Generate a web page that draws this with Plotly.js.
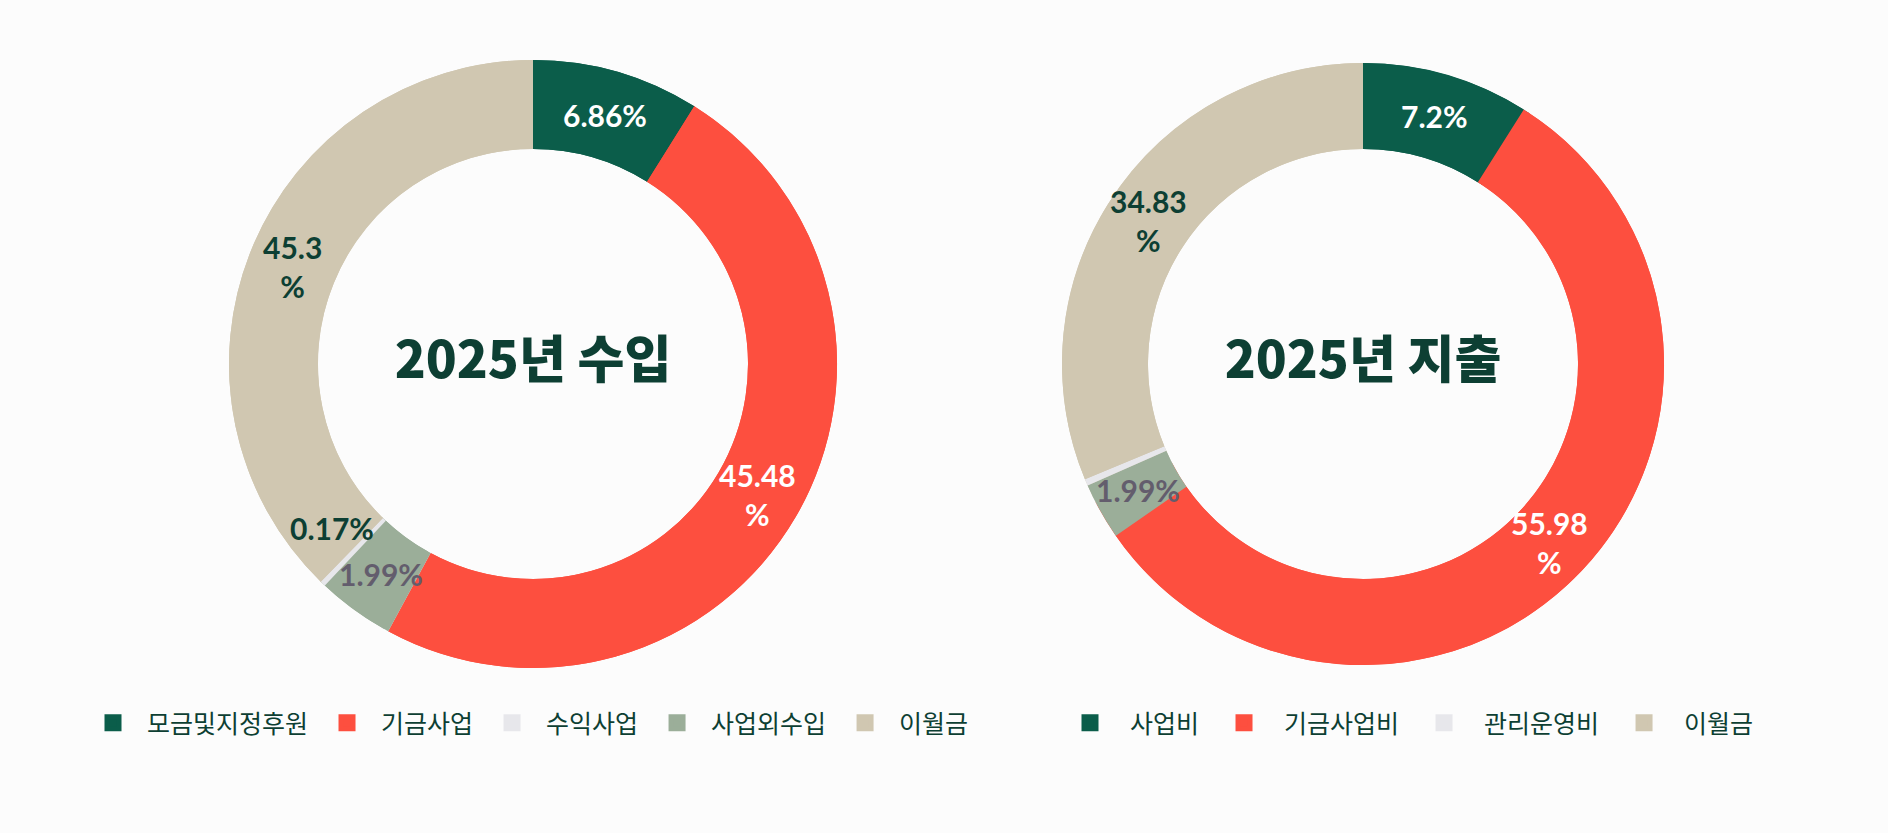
<!DOCTYPE html>
<html>
<head>
<meta charset="utf-8">
<script src="https://cdn.plot.ly/plotly-3.0.1.min.js"></script>
<style>
  html, body { margin: 0; padding: 0; background: #fcfcfc; }
  #chart { width: 1888px; height: 833px; }
</style>
</head>
<body>
<div id="chart"></div>
<script>
// ---------------- data ----------------
const incomeTitle = '2025년 수입';
const incomeLegendLabels = ['모금및지정후원', '기금사업', '수익사업', '사업외수입', '이월금'];
// slices in the order they run clockwise round the ring
const incomeRingLabels = ['모금및지정후원', '기금사업', '사업외수입', '수익사업', '이월금'];
const incomeRingShares = [8.9, 49.0, 4.1, 0.3, 37.7];           // arc sizes as drawn
const incomeRingPercents = [6.86, 45.48, 1.99, 0.17, 45.3];      // printed labels

const expenseTitle = '2025년 지출';
const expenseLegendLabels = ['사업비', '기금사업비', '관리운영비', '이월금'];
const expenseRingLabels = ['사업비', '기금사업비', '기타', '관리운영비', '이월금'];
const expenseRingShares = [8.97, 56.36, 3.06, 0.36, 31.25];
const expenseRingPercents = [7.2, 55.98, 1.99, null, 34.83];

// ---------------- styles ----------------
const GREEN = '#0b5d4a', RED = '#fd4f3f', GRAY = '#e7e7eb', SAGE = '#9bae99', BEIGE = '#d0c7b1';
const DARK = '#0d3f33', MUTED = '#635d6d', WHITE = '#ffffff';
const colorOf = {
  '모금및지정후원': GREEN, '기금사업': RED, '수익사업': GRAY, '사업외수입': SAGE, '이월금': BEIGE,
  '사업비': GREEN, '기금사업비': RED, '관리운영비': GRAY, '기타': SAGE
};
const textColorOf = c => (c === GREEN || c === RED) ? WHITE : (c === SAGE ? MUTED : DARK);

const W = 1888, H = 833;
const R_IN = 215, LEG_LINE = 5;
const LABEL_FONT = { family: 'Lato', size: 30, weight: 700 };

function dom(cx, cy, r) {
  return { x: [(cx - r) / W, (cx + r) / W], y: [(H - cy - r) / H, (H - cy + r) / H] };
}
function fmt(v) { return v >= 10 ? v + '<br>%' : v + '%'; }

function chart(legendLabels, ringLabels, shares, percents, title, cx, cy, rOut, legendId, group) {
  const rB = rOut - LEG_LINE / 2;
  const legendValues = legendLabels.map(l =>
    ringLabels.reduce((s, rl, i) => s + (rl === l ? shares[i] : 0), 0));
  const legendColors = legendLabels.map(l => colorOf[l]);
  const legendTrace = {
    type: 'pie', labels: legendLabels, values: legendValues, sort: false,
    direction: 'clockwise', rotation: 0,
    hole: (R_IN + LEG_LINE / 2) / rB,
    domain: dom(cx, cy, rB),
    marker: { colors: legendColors, line: { color: legendColors, width: LEG_LINE } },
    textinfo: 'none', hoverinfo: 'skip',
    showlegend: true, legend: legendId, legendgroup: group
  };
  const ringTrace = {
    type: 'pie', labels: ringLabels, values: shares,
    sort: false, direction: 'clockwise', rotation: 0,
    hole: R_IN / rOut,
    domain: dom(cx, cy, rOut),
    marker: { colors: ringLabels.map(l => colorOf[l]), line: { width: 0 } },
    textinfo: 'none', hoverinfo: 'label',
    title: { text: title, position: 'middle center',
             font: { family: 'Noto Sans CJK KR', size: 51, weight: 900, color: DARK } },
    showlegend: false, legend: legendId, legendgroup: group
  };
  // percentage labels at the middle of each arc, half-way across the ring
  const total = shares.reduce((a, b) => a + b, 0);
  const rMid = (rOut + R_IN) / 2;
  const anns = [];
  let cum = 0;
  shares.forEach((s, i) => {
    const start = cum; cum += s;
    if (percents[i] == null) return;
    let ang = (start + s / 2) / total * 360;
    if (s / total < 0.01) ang += 7;            // nudge labels of hairline slices off the sliver
    const a = ang * Math.PI / 180;
    const px = cx + rMid * Math.sin(a), py = cy - rMid * Math.cos(a);
    anns.push({
      xref: 'paper', yref: 'paper', x: px / W, y: (H - py) / H,
      xanchor: 'center', yanchor: 'middle', showarrow: false,
      text: fmt(percents[i]), align: 'center',
      font: Object.assign({ color: textColorOf(colorOf[ringLabels[i]]) }, LABEL_FONT)
    });
  });
  return { traces: [legendTrace, ringTrace], anns: anns };
}

const left = chart(incomeLegendLabels, incomeRingLabels, incomeRingShares, incomeRingPercents,
                   incomeTitle, 533, 364, 304, 'legend', 'income');
const right = chart(expenseLegendLabels, expenseRingLabels, expenseRingShares, expenseRingPercents,
                    expenseTitle, 1363, 364, 301, 'legend2', 'expense');

const legendFont = { family: 'Noto Sans CJK KR', size: 25, color: DARK };
const layout = {
  width: W, height: H,
  margin: { l: 0, r: 0, t: 0, b: 0 },
  paper_bgcolor: '#fcfcfc', plot_bgcolor: '#fcfcfc',
  showlegend: true,
  annotations: left.anns.concat(right.anns),
  legend: { orientation: 'h', x: 79 / W, xanchor: 'left', y: (H - 723) / H, yanchor: 'middle',
            font: legendFont, itemwidth: 58, bgcolor: 'rgba(0,0,0,0)', traceorder: 'normal' },
  legend2: { orientation: 'h', x: 1050 / W, xanchor: 'left', y: (H - 723) / H, yanchor: 'middle',
             font: legendFont, itemwidth: 70, bgcolor: 'rgba(0,0,0,0)', traceorder: 'normal' }
};

Plotly.newPlot('chart', left.traces.concat(right.traces), layout,
               { displayModeBar: false, staticPlot: true });
</script>
</body>
</html>
